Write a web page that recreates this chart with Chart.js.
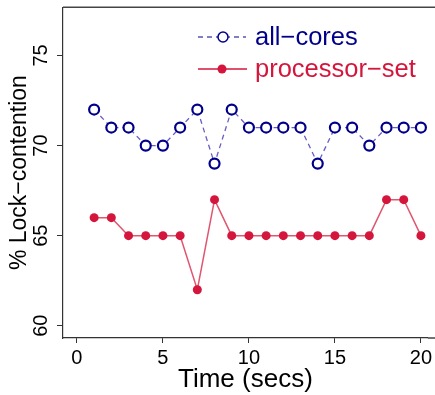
<!DOCTYPE html>
<html>
<head>
<meta charset="utf-8">
<script src="https://cdn.jsdelivr.net/npm/chart.js@4/dist/chart.umd.min.js"></script>
<style>
  html,body{margin:0;padding:0;background:#fff;}
  #wrap{width:435px;height:395px;}
</style>
</head>
<body>
<div id="wrap"><canvas id="lockChart" width="435" height="395"></canvas></div>
<script>
// values
const seconds = [1,2,3,4,5,6,7,8,9,10,11,12,13,14,15,16,17,18,19,20];
const allCores = [72,71,71,70,70,71,72,69,72,71,71,71,71,69,71,71,70,71,71,71];
const processorSet = [66,66,65,65,65,65,62,67,65,65,65,65,65,65,65,65,65,67,67,65];
const xTicks = [0,5,10,15,20];
const yTicks = [60,65,70,75];

const FONT = "'Liberation Sans', Arial, Helvetica, sans-serif";
const BLUE = '#00008b', BLUE_LINE = '#6a5cc4';
const RED = '#d4163c', RED_LINE = '#e0566e';

// keep the plot box where the reference has it (no edge padding for labels)
function noPad(s){ s.paddingTop=0; s.paddingBottom=0; s.paddingLeft=0; s.paddingRight=0; }

// box round the plot (open on the right, like the cropped original) + legend
const frame = {
  id:'frame',
  afterDraw(chart){
    const {ctx, chartArea:a} = chart;
    ctx.save();
    ctx.strokeStyle = '#444';
    ctx.lineWidth = 1.4;
    ctx.beginPath();
    ctx.moveTo(a.left, a.top); ctx.lineTo(chart.width, a.top);
    ctx.moveTo(a.right, a.bottom); ctx.lineTo(chart.width, a.bottom);
    ctx.stroke();

    ctx.font = '25.5px ' + FONT;
    ctx.textBaseline = 'middle';
    // all-cores
    ctx.strokeStyle = BLUE; ctx.lineWidth = 1.2; ctx.setLineDash([5,4]);
    ctx.beginPath(); ctx.moveTo(198,37); ctx.lineTo(246,37); ctx.stroke();
    ctx.setLineDash([]);
    ctx.fillStyle = '#fff'; ctx.lineWidth = 1.5;
    ctx.beginPath(); ctx.arc(223,37,5,0,Math.PI*2); ctx.fill(); ctx.stroke();
    ctx.fillStyle = BLUE; ctx.fillText('all\u2212cores',255,38);
    // processor-set
    ctx.strokeStyle = RED; ctx.lineWidth = 1.5;
    ctx.beginPath(); ctx.moveTo(198,69); ctx.lineTo(247,69); ctx.stroke();
    ctx.fillStyle = RED;
    ctx.beginPath(); ctx.arc(222,69,4.5,0,Math.PI*2); ctx.fill();
    ctx.fillText('processor\u2212set',255,70);
    ctx.restore();
  }
};

new Chart(document.getElementById('lockChart').getContext('2d'),{
  type:'line',
  data:{
    datasets:[
      {label:'all\u2212cores',data:seconds.map((s,i)=>({x:s,y:allCores[i]})),
        borderColor:BLUE_LINE,borderWidth:1.3,borderDash:[5,4],
        pointStyle:'circle',pointRadius:5,pointBorderWidth:2.2,
        pointBorderColor:BLUE,pointBackgroundColor:'#fff',tension:0},
      {label:'processor\u2212set',data:seconds.map((s,i)=>({x:s,y:processorSet[i]})),
        borderColor:RED_LINE,borderWidth:1.5,
        pointStyle:'circle',pointRadius:4.5,pointBorderWidth:0,
        pointBackgroundColor:RED,tension:0}
    ]
  },
  options:{
    responsive:false,animation:false,
    layout:{padding:{top:2,right:0,left:0,bottom:0}},
    plugins:{legend:{display:false},tooltip:{enabled:false}},
    scales:{
      x:{type:'linear',min:-0.81,max:20.4,
        afterBuildTicks:s=>{s.ticks=xTicks.map(v=>({value:v}));},
        afterFit:s=>{s.height=57; noPad(s);},
        grid:{display:true,drawOnChartArea:false,drawTicks:true,tickLength:5,color:'#333'},
        border:{display:true,color:'#333',width:1.2},
        ticks:{color:'#000',font:{family:FONT,size:20},padding:3,maxRotation:0},
        title:{display:true,text:'Time (secs)',color:'#000',font:{family:FONT,size:26},padding:{top:0,bottom:0}}
      },
      y:{min:59.32,max:77.68,
        afterBuildTicks:s=>{s.ticks=yTicks.map(v=>({value:v}));},
        afterFit:s=>{s.width=63; noPad(s);},
        grid:{display:true,drawOnChartArea:false,drawTicks:true,tickLength:6,color:'#333'},
        border:{display:true,color:'#333',width:1.2},
        ticks:{color:'#000',font:{family:FONT,size:20},padding:4,minRotation:90,maxRotation:90,crossAlign:'center'},
        title:{display:true,text:'% Lock\u2212contention',color:'#000',font:{family:FONT,size:23},padding:{top:6,bottom:0}}
      }
    }
  },
  plugins:[frame]
});
</script>
</body>
</html>
